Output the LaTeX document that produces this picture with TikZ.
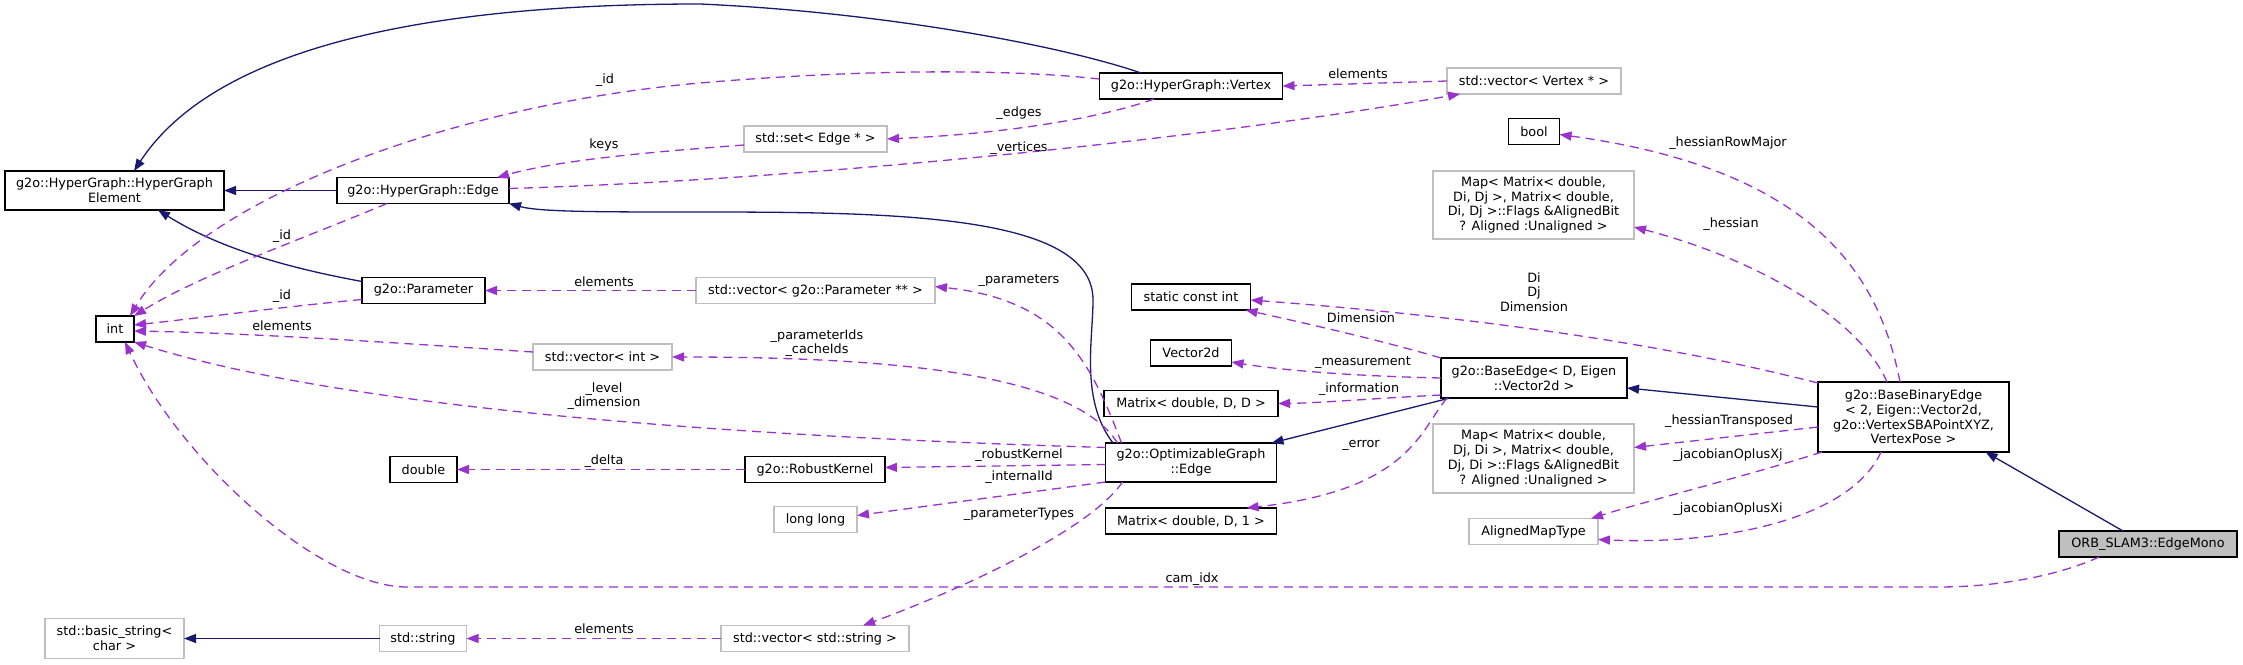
\documentclass[tikz,border=0pt]{standalone}
\usepackage{fontspec}
\setmainfont{DejaVu Sans}
\usetikzlibrary{arrows.meta,calc}
\definecolor{navyc}{RGB}{25,25,112}
\definecolor{orchidc}{RGB}{154,50,205}
\definecolor{greyb}{RGB}{191,191,191}
\begin{document}
\begin{tikzpicture}[x=1pt,y=-1pt,
  every node/.style={font=\fontsize{12.8}{14.7}\selectfont, inner sep=0pt, outer sep=0pt, align=center},
  cls/.style={draw=black, line width=1.3pt, fill=white},
  ext/.style={draw=greyb, line width=1.3pt, fill=white},
  inh/.style={draw=navyc, line width=1.3pt, -{Triangle[length=12pt,width=9pt]}},
  mem/.style={draw=orchidc, line width=1.3pt, dash pattern=on 9pt off 6pt, -{Triangle[length=12pt,width=9pt]}},
  lbl/.style={}
]
\useasboundingbox (0,0) rectangle (2243,664);
% nodes
\node[cls, minimum width=219pt, minimum height=39pt] (hge) at (114.5,190.5) {g2o::HyperGraph::HyperGraph\\Element};
\node[cls, minimum width=38pt, minimum height=26pt] (int) at (115,329) {int};
\node[ext, minimum width=139pt, minimum height=40pt] (bstr) at (114.5,638.5) {std::basic\_string<\\char >};
\node[cls, minimum width=172pt, minimum height=26pt] (hedge) at (423,190.5) {g2o::HyperGraph::Edge};
\node[cls, minimum width=123pt, minimum height=26pt] (param) at (423.5,290.5) {g2o::Parameter};
\node[cls, minimum width=67pt, minimum height=26pt] (dbl) at (423.5,469.5) {double};
\node[ext, minimum width=87pt, minimum height=26pt] (str) at (423,638.5) {std::string};
\node[ext, minimum width=139pt, minimum height=26pt] (vint) at (602.5,357) {std::vector< int >};
\node[ext, minimum width=143pt, minimum height=26pt] (set) at (815.5,139) {std::set< Edge * >};
\node[ext, minimum width=239pt, minimum height=26pt] (vparam) at (815.5,290.5) {std::vector< g2o::Parameter ** >};
\node[cls, minimum width=140pt, minimum height=26pt] (rk) at (815,469.5) {g2o::RobustKernel};
\node[ext, minimum width=83pt, minimum height=26pt] (ll) at (815.5,519.5) {long long};
\node[ext, minimum width=188pt, minimum height=26pt] (vstr) at (815,638.5) {std::vector< std::string >};
\node[cls, minimum width=183pt, minimum height=26pt] (vertex) at (1191,86) {g2o::HyperGraph::Vertex};
\node[cls, minimum width=119pt, minimum height=26pt] (sci) at (1191,297) {static const int};
\node[cls, minimum width=81pt, minimum height=26pt] (v2d) at (1191,353) {Vector2d};
\node[cls, minimum width=174pt, minimum height=26pt] (mdd) at (1191,403.5) {Matrix< double, D, D >};
\node[cls, minimum width=171pt, minimum height=39pt] (opt) at (1191,462.5) {g2o::OptimizableGraph\\::Edge};
\node[cls, minimum width=171pt, minimum height=26pt] (md1) at (1191,521) {Matrix< double, D, 1 >};
\node[ext, minimum width=174pt, minimum height=26pt] (vvert) at (1534,81) {std::vector< Vertex * >};
\node[cls, minimum width=51pt, minimum height=26pt] (bool) at (1534,131.5) {bool};
\node[ext, minimum width=201pt, minimum height=68pt] (map1) at (1533.5,205) {Map< Matrix< double,\\ Di, Dj >, Matrix< double,\\ Di, Dj >::Flags \&AlignedBit\\? Aligned :Unaligned >};
\node[cls, minimum width=186pt, minimum height=40pt] (bedge) at (1534,378) {g2o::BaseEdge< D, Eigen\\::Vector2d >};
\node[ext, minimum width=201pt, minimum height=69pt] (map2) at (1533.5,458.5) {Map< Matrix< double,\\ Dj, Di >, Matrix< double,\\ Dj, Di >::Flags \&AlignedBit\\? Aligned :Unaligned >};
\node[ext, minimum width=129pt, minimum height=26pt] (amt) at (1533.5,531.5) {AlignedMapType};
\node[cls, minimum width=191pt, minimum height=70pt] (bbe) at (1913.5,417) {g2o::BaseBinaryEdge\\< 2, Eigen::Vector2d,\\ g2o::VertexSBAPointXYZ,\\ VertexPose >};
\node[cls, fill=greyb, minimum width=178pt, minimum height=26pt] (mono) at (2148,544) {ORB\_SLAM3::EdgeMono};
% inheritance
\draw[inh] ($(vertex.north)+(-50,0)$) .. controls (1060,45) and (880,12) .. (700,4) .. controls (450,4) and (220,40) .. ($(hge.north)+(19.5,0)$);
\draw[inh] (hedge.west) -- (hge.east);
\draw[inh] ($(param.north west)+(0,4)$) .. controls (300,270) and (225,252) .. ($(hge.south)+(43.5,0)$);
\draw[inh] ($(opt.north)+(-78,0)$) .. controls (1080,400) and (1093,340) .. (1093,300) .. controls (1093,215) and (900,212) .. (700,212) .. controls (600,212) and (540,212) .. (hedge.south east);
\draw[inh] ($(bedge.south west)+(9,0)$) -- ($(opt.north east)+(-5,0)$);
\draw[inh] ($(bbe.west)+(0,-10)$) -- ($(bedge.east)+(0,10)$);
\draw[inh] ($(mono.north)+(-25,0)$) -- ($(bbe.south)+(72,0)$);
\draw[inh] (str.west) -- (bstr.east);
% members
\draw[mem] ($(vertex.west)+(0,-7)$) .. controls (1000,68) and (850,70) .. (700,83) .. controls (450,105) and (200,200) .. ($(int.north east)+(-4,0)$) node[lbl, at={(605,80)}] (l1) {\_id};
\draw[mem] (vvert.west) -- (vertex.east) node[lbl, at={(1358,74)}] (l2) {elements};
\draw[mem] ($(vertex.south)+(-37,0)$) .. controls (1110,115) and (1020,133) .. (set.east) node[lbl, at={(1019,113)}] (l3) {\_edges};
\draw[mem] ($(set.west)+(0,6)$) .. controls (650,152) and (560,160) .. ($(hedge.north east)+(-12,0)$) node[lbl, at={(604,145)}] (l4) {keys};
\draw[mem] ($(hedge.east)+(0,-2)$) .. controls (800,180) and (1200,140) .. ($(vvert.south west)+(13,0)$) node[lbl, at={(1019,148)}] (l5) {\_vertices};
\draw[mem] ($(hedge.south)+(-36,0)$) .. controls (300,240) and (200,275) .. (int.north east) node[lbl, at={(282,236)}] (l6) {\_id};
\draw[mem] ($(param.south west)+(0,-4)$) .. controls (280,307) and (200,318) .. ($(int.east)+(0,-4)$) node[lbl, at={(282,296)}] (l7) {\_id};
\draw[mem] (vparam.west) -- (param.east) node[lbl, at={(604,282)}] (l8) {elements};
\draw[mem] ($(vint.west)+(0,-5)$) .. controls (400,343) and (250,333) .. ($(int.east)+(0,2)$) node[lbl, at={(282,326)}] (l9) {elements};
\draw[mem] ($(opt.north west)+(12,0)$) .. controls (1075,375) and (900,357) .. (vint.east) node[lbl, at={(817,343)}] (l10) {\_parameterIds\\\_cacheIds};
\draw[mem] ($(opt.west)+(0,-15)$) .. controls (750,437) and (350,410) .. (int.south east) node[lbl, at={(604,396)}] (l11) {\_level\\\_dimension};
\draw[mem] ($(opt.north west)+(16,0)$) .. controls (1090,360) and (1060,300) .. ($(vparam.east)+(0,-4)$) node[lbl, at={(1019,281)}] (l12) {\_parameters};
\draw[mem] (rk.west) -- (dbl.east) node[lbl, at={(604,461)}] (l13) {\_delta};
\draw[mem] ($(opt.west)+(0,2)$) -- ($(rk.east)+(0,-2)$) node[lbl, at={(1019,455)}] (l14) {\_robustKernel};
\draw[mem] (opt.south west) -- ($(ll.east)+(0,-4)$) node[lbl, at={(1019,477)}] (l15) {\_internalId};
\draw[mem] ($(opt.south west)+(17,0)$) .. controls (1090,530) and (960,590) .. ($(vstr.north)+(48,0)$) node[lbl, at={(1019,514)}] (l16) {\_parameterTypes};
\draw[mem] (vstr.west) -- (str.east) node[lbl, at={(604,629)}] (l17) {elements};
\draw[mem] (bedge.north west) .. controls (1380,340) and (1300,322) .. ($(sci.south east)+(-5,0)$) node[lbl, at={(1361,318)}] (l18) {Dimension};
\draw[mem] (bedge.west) .. controls (1350,376) and (1280,370) .. ($(v2d.east)+(0,9)$) node[lbl, at={(1363,363)}] (l19) {\_measurement};
\draw[mem] ($(bedge.west)+(0,17)$) .. controls (1380,398) and (1320,403) .. (mdd.east) node[lbl, at={(1359,389)}] (l20) {\_information};
\draw[mem] ($(bedge.south west)+(6,0)$) .. controls (1420,430) and (1410,490) .. ($(md1.north east)+(-30,0)$) node[lbl, at={(1361,445)}] (l21) {\_error};
\draw[mem] ($(bbe.north west)+(0,1)$) .. controls (1650,340) and (1450,315) .. ($(sci.east)+(0,3)$) node[lbl, at={(1534,292)}] (l22) {Di\\Dj\\Dimension};
\draw[mem] ($(bbe.north)+(-13.5,0)$) .. controls (1880,280) and (1820,170) .. ($(bool.east)+(0,3)$) node[lbl, at={(1728,143)}] (l23) {\_hessianRowMajor};
\draw[mem] ($(bbe.north)+(-26.5,0)$) .. controls (1860,320) and (1760,260) .. ($(map1.east)+(0,22)$) node[lbl, at={(1731,224)}] (l24) {\_hessian};
\draw[mem] ($(bbe.west)+(0,10)$) -- ($(map2.east)+(0,-11)$) node[lbl, at={(1729,421)}] (l25) {\_hessianTransposed};
\draw[mem] ($(bbe.south west)+(4,0)$) .. controls (1750,475) and (1650,500) .. ($(amt.north east)+(-7,0)$) node[lbl, at={(1728,455)}] (l26) {\_jacobianOplusXj};
\draw[mem] ($(bbe.south)+(-32.5,0)$) .. controls (1850,520) and (1720,545) .. ($(amt.east)+(0,8)$) node[lbl, at={(1728,509)}] (l27) {\_jacobianOplusXi};
\draw[mem] ($(mono.south)+(-49,0)$) .. controls (2060,575) and (2000,587) .. (1938,587) -- (407,587) .. controls (320,587) and (180,460) .. ($(int.south)+(10,0)$) node[lbl, at={(1192,579)}] (l28) {cam\_idx};
\end{tikzpicture}
\end{document}
